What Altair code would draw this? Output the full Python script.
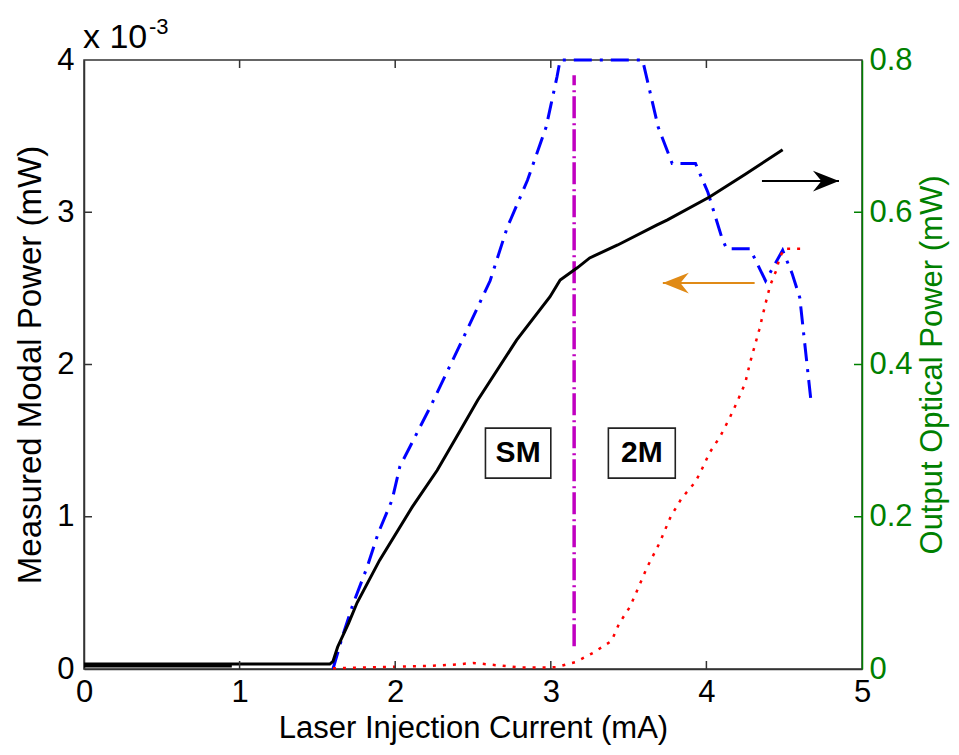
import altair as alt
import pandas as pd

# ---------------- data ----------------
# Output optical power (right axis, mW) - black solid
black_x = [0.0, 1.58, 1.60, 1.63, 1.70, 1.755, 1.90, 2.11, 2.27, 2.42, 2.53, 2.78, 2.995,
           3.06, 3.17, 3.25, 3.43, 3.68, 3.75, 4.02, 4.25, 4.49]
black_y = [0.0065, 0.0065, 0.010, 0.029, 0.060, 0.087, 0.143, 0.213, 0.261, 0.314, 0.353,
           0.432, 0.489, 0.511, 0.527, 0.540, 0.557, 0.583, 0.590, 0.620, 0.650, 0.682]
black2_x = [0.0, 0.95]
black2_y = [0.004, 0.004]

# Measured modal power (left axis, x1e-3 mW) - blue dash-dot
blue_x = [1.60, 1.66, 1.73, 1.82, 1.89, 1.98, 2.03, 2.14, 2.23, 2.44, 2.61, 2.72, 2.85, 2.97,
          3.04, 3.06, 3.59, 3.69, 3.78, 3.93, 4.01, 4.10, 4.13, 4.28, 4.38, 4.49, 4.55, 4.60, 4.67]
blue_y = [0.0, 0.21, 0.43, 0.67, 0.89, 1.11, 1.33, 1.55, 1.73, 2.18, 2.55, 2.90, 3.21, 3.56,
          3.89, 4.0, 4.0, 3.56, 3.32, 3.32, 3.13, 2.83, 2.76, 2.76, 2.55, 2.75, 2.60, 2.44, 1.78]

# Measured modal power, second mode (left axis) - red dotted
red_x = [1.60, 1.80, 2.00, 2.20, 2.40, 2.50, 2.60, 2.80, 3.00, 3.04, 3.10, 3.16, 3.27, 3.39,
         3.44, 3.51, 3.62, 3.70, 3.77, 3.84, 3.93, 3.97, 4.02, 4.09, 4.15, 4.20, 4.25, 4.28,
         4.34, 4.38, 4.41, 4.45, 4.47, 4.50, 4.62]
red_y = [0.005, 0.01, 0.015, 0.02, 0.03, 0.04, 0.03, 0.01, 0.01, 0.013, 0.03, 0.046, 0.105,
         0.184, 0.30, 0.41, 0.67, 0.83, 1.00, 1.12, 1.23, 1.31, 1.42, 1.53, 1.65, 1.76, 1.88,
         2.01, 2.23, 2.40, 2.52, 2.62, 2.70, 2.76, 2.76]

# SM / 2M boundary (magenta dash-dot)
bound_x = [3.15, 3.15]
bound_y = [0.15, 3.9]

# annotation arrows
black_arrow_x = [4.357, 4.852]   # tail, tip
black_arrow_y = 0.641           # right axis
orange_arrow_x = [4.31, 3.72]   # tail, tip
orange_arrow_y = 2.535          # left axis

# labelled boxes
box_labels = ["SM", "2M"]
box_x1 = [2.58, 3.37]
box_x2 = [3.00, 3.80]
box_y1 = [1.254, 1.254]
box_y2 = [1.582, 1.582]

x_ticks = [0, 1, 2, 3, 4, 5]
left_ticks = [0, 1, 2, 3, 4]
right_ticks = [0, 0.2, 0.4, 0.6, 0.8]

# ---------------- chart ----------------
W, H = 778, 609
FONT = "Liberation Sans"
GREEN = "#008000"
TL = 8  # inward tick length

xscale = alt.Scale(domain=[0, 5], nice=False, zero=False)
yL = alt.Scale(domain=[0, 4], nice=False, zero=False)
yR = alt.Scale(domain=[0, 0.8], nice=False, zero=False)

xaxis = alt.Axis(values=x_ticks, title="Laser Injection Current (mA)", format="d",
                 ticks=False, labelPadding=8, titlePadding=6, labelFlush=False,
                 titleFontSize=31,
                 domainColor="#333333", domainWidth=1.5)


def X(field="x"):
    return alt.X(f"{field}:Q", scale=xscale, axis=xaxis)


def YL(field="y", axis=None):
    return alt.Y(f"{field}:Q", scale=yL, axis=axis)


def YR(field="y", axis=None):
    return alt.Y(f"{field}:Q", scale=yR, axis=axis)


def df(xs, ys):
    return pd.DataFrame({"x": xs, "y": ys, "i": list(range(len(xs)))})


left_axis = alt.Axis(orient="left", values=left_ticks, format="d",
                     title="Measured Modal Power (mW)", ticks=False,
                     labelPadding=10, titlePadding=9, labelFlush=False,
                     titleFontSize=33,
                     domainColor="#333333", domainWidth=1.5)
right_axis = alt.Axis(orient="right", values=right_ticks,
                      labelExpr="datum.value == 0 ? '0' : format(datum.value, '.1f')",
                      title="Output Optical Power (mW)", ticks=False,
                      labelPadding=7, titlePadding=5, labelFlush=False,
                      titleFontSize=31,
                      labelColor=GREEN, titleColor=GREEN, domainColor=GREEN,
                      domainWidth=1.5, titleAngle=270, titleBaseline="top")

blue = alt.Chart(df(blue_x, blue_y)).mark_line(
    color="#0000FF", strokeWidth=3, strokeDash=[18, 8, 3, 8]
).encode(x=X(), y=YL(axis=left_axis), order="i:Q")

red = alt.Chart(df(red_x, red_y)).mark_line(
    color="#FF0000", strokeWidth=2.5, strokeDash=[3, 7]
).encode(x=X(), y=YL(), order="i:Q")

magenta = alt.Chart(df(bound_x, bound_y)).mark_line(
    color="#C000C0", strokeWidth=3.5, strokeDash=[22, 4, 2, 5]
).encode(x=X(), y=YL(), order="i:Q")

black = alt.Chart(df(black_x, black_y)).mark_line(
    color="#000000", strokeWidth=3
).encode(x=X(), y=YR(axis=right_axis), order="i:Q")

black2 = alt.Chart(df(black2_x, black2_y)).mark_line(
    color="#000000", strokeWidth=3
).encode(x=X(), y=YR(), order="i:Q")

# arrows
barrow_df = pd.DataFrame({"x": [black_arrow_x[0]], "x2": [black_arrow_x[1]], "y": [black_arrow_y]})
barrow_line = alt.Chart(barrow_df).mark_rule(color="#000000", strokeWidth=2).encode(
    x=X(), x2="x2:Q", y=YR())
bhead_df = pd.DataFrame({"x": [black_arrow_x[1]], "y": [black_arrow_y]})
barrow_head = alt.Chart(bhead_df).mark_point(
    shape="M0,0L-2,-0.8L-1.35,0L-2,0.8Z", filled=True, size=676, opacity=1,
    color="#000000", strokeWidth=0
).encode(x=X(), y=YR())

oarrow_df = pd.DataFrame({"x": [orange_arrow_x[0]], "x2": [orange_arrow_x[1]], "y": [orange_arrow_y]})
oarrow_line = alt.Chart(oarrow_df).mark_rule(color="#E08A16", strokeWidth=2).encode(
    x=X(), x2="x2:Q", y=YL())
ohead_df = pd.DataFrame({"x": [orange_arrow_x[1]], "y": [orange_arrow_y]})
oarrow_head = alt.Chart(ohead_df).mark_point(
    shape="M0,0L2,-0.8L1.35,0L2,0.8Z", filled=True, size=676, opacity=1,
    color="#E08A16", strokeWidth=0
).encode(x=X(), y=YL())

# boxes
box_df = pd.DataFrame({"label": box_labels, "x": box_x1, "x2": box_x2,
                       "y": box_y1, "y2": box_y2})
box_df["xc"] = (box_df["x"] + box_df["x2"]) / 2
box_df["yc"] = (box_df["y"] + box_df["y2"]) / 2
boxes = alt.Chart(box_df).mark_rect(fill="white", stroke="#222222", strokeWidth=1.6).encode(
    x=X(), x2="x2:Q", y=YL(), y2="y2:Q")
box_text = alt.Chart(box_df).mark_text(
    font=FONT, fontSize=30, fontWeight="bold", color="#000000", baseline="middle", align="center"
).encode(x=X("xc"), y=YL("yc"), text="label:N")

# inward ticks
top_ticks = alt.Chart(pd.DataFrame({"x": x_ticks[1:-1]})).mark_rule(
    color="#333333", strokeWidth=1.5).encode(x=X(), y=alt.value(0), y2=alt.value(TL))
bot_ticks = alt.Chart(pd.DataFrame({"x": x_ticks[1:-1]})).mark_rule(
    color="#333333", strokeWidth=1.5).encode(x=X(), y=alt.value(H), y2=alt.value(H - TL))
l_ticks = alt.Chart(pd.DataFrame({"y": left_ticks[1:-1]})).mark_rule(
    color="#333333", strokeWidth=1.5).encode(y=YL(), x=alt.value(0), x2=alt.value(TL))
r_ticks = alt.Chart(pd.DataFrame({"y": right_ticks[1:-1]})).mark_rule(
    color=GREEN, strokeWidth=1.5).encode(y=YR(), x=alt.value(W - TL), x2=alt.value(W))

# exponent annotation
exp_base = alt.Chart(pd.DataFrame({"t": ["x 10"]})).mark_text(
    font=FONT, fontSize=34, align="left", baseline="alphabetic", color="#000000"
).encode(x=alt.value(-1), y=alt.value(-12), text="t:N")
exp_sup = alt.Chart(pd.DataFrame({"t": ["-3"]})).mark_text(
    font=FONT, fontSize=22, align="left", baseline="alphabetic", color="#000000"
).encode(x=alt.value(65), y=alt.value(-26), text="t:N")

chart = alt.layer(
    blue, red, magenta, black2, black, barrow_line, barrow_head, oarrow_line, oarrow_head,
    boxes, box_text, top_ticks, bot_ticks, l_ticks, r_ticks, exp_base, exp_sup
).resolve_scale(y="independent").properties(
    width=W, height=H,
    autosize=alt.AutoSizeParams(type="none"),
    padding={"left": 76, "top": 52, "right": 89, "bottom": 78},
).configure_view(
    stroke="#333333", strokeWidth=1.5
).configure_axis(
    labelFont=FONT, titleFont=FONT, labelFontSize=31, titleFontSize=32,
    titleFontWeight="normal", labelColor="#000000", titleColor="#000000", grid=False
)

chart.save("out.html", embed_options={"renderer": "svg", "actions": False})
